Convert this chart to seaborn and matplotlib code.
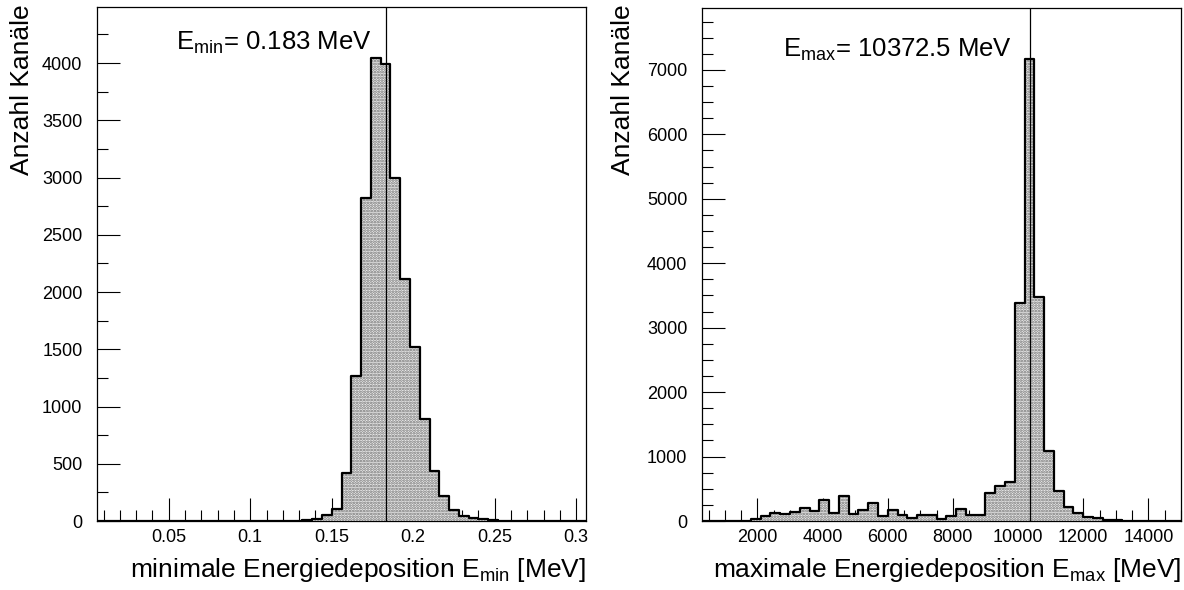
import numpy as np
import pandas as pd
import matplotlib
matplotlib.use("Agg")
import matplotlib.pyplot as plt
from matplotlib.ticker import MultipleLocator, FuncFormatter
import seaborn as sns

# ---------------- data ----------------
# minimal energy deposition histogram (bin width 0.006 MeV)
emin_range = (0.006, 0.306)
emin_bin_width = 0.006
emin_bin_lo = [0.126, 0.132, 0.138, 0.144, 0.150, 0.156, 0.162, 0.168, 0.174, 0.180,
               0.186, 0.192, 0.198, 0.204, 0.210, 0.216, 0.222, 0.228, 0.234, 0.240,
               0.246, 0.252]
emin_counts = [2, 5, 15, 50, 102, 418, 1270, 2820, 4044, 3994,
               2996, 2117, 1518, 891, 437, 216, 96, 47, 26, 14,
               6, 2]
emin_mean = 0.183

# maximal energy deposition histogram (bin width 300 MeV)
emax_range = (300, 15000)
emax_bin_width = 300
emax_bin_lo = [1800, 2100, 2400, 2700, 3000, 3300, 3600, 3900, 4200, 4500,
               4800, 5100, 5400, 5700, 6000, 6300, 6600, 6900, 7200, 7500,
               7800, 8100, 8400, 8700, 9000, 9300, 9600, 9900, 10200, 10500,
               10800, 11100, 11400, 11700, 12000, 12300, 12600, 12900]
emax_counts = [26, 78, 129, 103, 134, 197, 155, 321, 124, 383,
               114, 176, 279, 72, 166, 88, 41, 100, 88, 30,
               70, 181, 90, 98, 430, 543, 600, 3388, 7171, 3472,
               1086, 466, 222, 129, 62, 52, 15, 10]
emax_mean = 10372.5

# ---------------- style ----------------
sns.set_style("white")
plt.rcParams["font.family"] = ["Liberation Sans", "DejaVu Sans"]
plt.rcParams["mathtext.default"] = "regular"
plt.rcParams["hatch.linewidth"] = 1.3
plt.rcParams["text.color"] = "black"
plt.rcParams["axes.labelcolor"] = "black"

W, H = 1184, 590
fig = plt.figure(figsize=(W / 100, H / 100), dpi=100)


def px_axes(l, r, t, b):
    return fig.add_axes([l / W, 1 - b / H, (r - l) / W, (b - t) / H])


ax1 = px_axes(97, 586, 7, 521)
ax2 = px_axes(702, 1181, 8, 521)

FILL = "#eeeeee"
HATCHC = "#707070"


def draw_hist(ax, lo, counts, width, xr, ymax):
    centers = np.asarray(lo) + width / 2
    df = pd.DataFrame({"E": centers, "n": counts})
    nb = int(round((xr[1] - xr[0]) / width)) + 1
    edges = [float(e) for e in xr[0] + width * np.arange(nb)]
    sns.histplot(data=df, x="E", weights="n", bins=edges, element="step",
                 fill=True, facecolor=FILL, edgecolor=HATCHC, hatch="......",
                 linewidth=0, alpha=1, ax=ax)
    sns.histplot(data=df, x="E", weights="n", bins=edges, element="step",
                 fill=False, color="black", linewidth=1.6, ax=ax)
    ax.set_xlim(*xr)
    ax.set_ylim(0, ymax)


draw_hist(ax1, emin_bin_lo, emin_counts, emin_bin_width, emin_range, 4490)
draw_hist(ax2, emax_bin_lo, emax_counts, emax_bin_width, emax_range, 7960)

ax1.axvline(emin_mean, color="black", lw=0.9)
ax2.axvline(emax_mean, color="black", lw=0.9)

for ax, xmaj, xmin, ymaj, ymin in [(ax1, 0.05, 0.01, 500, 250),
                                   (ax2, 2000, 500, 1000, 250)]:
    ax.xaxis.set_major_locator(MultipleLocator(xmaj))
    ax.xaxis.set_minor_locator(MultipleLocator(xmin))
    ax.yaxis.set_major_locator(MultipleLocator(ymaj))
    ax.yaxis.set_minor_locator(MultipleLocator(ymin))
    ax.xaxis.set_major_formatter(FuncFormatter(lambda v, p: f"{v:g}"))
    ax.yaxis.set_major_formatter(FuncFormatter(lambda v, p: f"{v:g}"))
    ax.tick_params(which="both", direction="in", top=False, right=False,
                   bottom=True, left=True,
                   width=0.8, color="black", labelsize=13, labelcolor="black")
    ax.tick_params(which="major", length=16.5)
    ax.tick_params(which="minor", length=8)
    ax.tick_params(axis="x", which="major", pad=6)
    ax.tick_params(axis="y", which="major", pad=10.5)
    for s in ax.spines.values():
        s.set_color("black")
        s.set_linewidth(0.9)
    ax.set_facecolor("white")

ax1.set_xlabel(r"minimale Energiedeposition E$_{min}$ [MeV]", fontsize=19,
               ha="right", va="baseline")
ax1.xaxis.set_label_coords(1.0, (521 - 577) / 514)
ax1.set_ylabel("Anzahl Kanäle", fontsize=19, ha="right", va="baseline")
ax1.yaxis.set_label_coords((29.5 - 97) / 489, (521 - 4) / 514)

ax2.set_xlabel(r"maximale Energiedeposition E$_{max}$ [MeV]", fontsize=19,
               ha="right", va="baseline")
ax2.xaxis.set_label_coords(1.0, (521 - 577) / 513)
ax2.set_ylabel("Anzahl Kanäle", fontsize=19, ha="right", va="baseline")
ax2.yaxis.set_label_coords((629.5 - 702) / 479, (521 - 4) / 513)

fig.text(372 / W, 1 - 50 / H, r"E$_{min}$= " + f"{emin_mean:g} MeV",
         fontsize=18.5, ha="right", va="baseline")
fig.text(1012 / W, 1 - 57 / H, r"E$_{max}$= " + f"{emax_mean:g} MeV",
         fontsize=18.5, ha="right", va="baseline")

fig.savefig("out.png", dpi=100, facecolor="white")
